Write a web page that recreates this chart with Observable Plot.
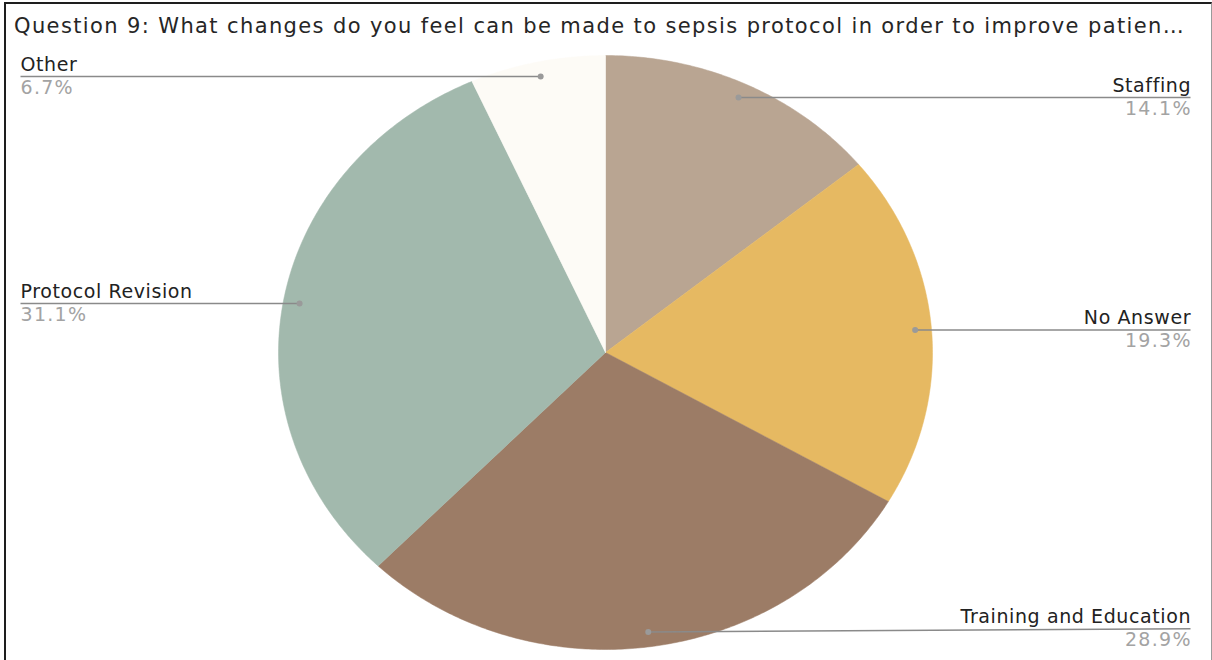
<!DOCTYPE html>
<html>
<head>
<meta charset="utf-8">
<script src="https://cdn.jsdelivr.net/npm/d3@7"></script>
<script src="https://cdn.jsdelivr.net/npm/@observablehq/plot@0.6"></script>
<style>
  html, body { margin: 0; padding: 0; background: #fff; }
  body { width: 1212px; height: 660px; position: relative; overflow: hidden; font-family: "DejaVu Sans", Verdana, sans-serif; }
  #frame { position: absolute; left: 4px; top: 2px; width: 1205px; height: 680px;
           border-left: 2px solid #1e1e1e; border-top: 2px solid #1e1e1e; border-right: 1px solid #9a9a9a; }
  #title { position: absolute; left: 14px; top: 16px; font-size: 21px; letter-spacing: 1.38px; line-height: 1; color: #262626; white-space: nowrap; }
  #chart { position: absolute; left: 0; top: 44px; }
</style>
</head>
<body>
<div id="frame"></div>
<div id="title">Question 9: What changes do you feel can be made to sepsis protocol in order to improve patien…</div>
<div id="chart"></div>
<script>
// Responses to question 9, clockwise from 12 o'clock
const categories = ["Staffing", "No Answer", "Training and Education", "Protocol Revision", "Other"];
const percents = [14.1, 19.3, 28.9, 31.1, 6.7];
const colors = ["#b9a592", "#e6b962", "#9c7c66", "#a2b9ad", "#fdfbf6"];

const total = d3.sum(percents);
let acc = 0;
const slices = categories.map((name, i) => {
  const a0 = (acc / total) * 2 * Math.PI;
  acc += percents[i];
  const a1 = (acc / total) * 2 * Math.PI;
  return {name, value: percents[i], a0, a1, mid: (a0 + a1) / 2};
});

// Wedge outlines in unit-circle coordinates (angle measured clockwise from top)
const wedgePoints = slices.flatMap(s => {
  const n = Math.max(8, Math.ceil((s.a1 - s.a0) / 0.01));
  const pts = [{name: s.name, x: 0, y: 0}];
  for (let k = 0; k <= n; ++k) {
    const a = s.a0 + (s.a1 - s.a0) * k / n;
    pts.push({name: s.name, x: Math.sin(a), y: Math.cos(a)});
  }
  pts.push({name: s.name, x: 0, y: 0});
  return pts;
});

// Callouts: anchor dot inside each wedge, leader to the side margin
const labelX = 1.789;
const callouts = slices.map(s => {
  const x1 = 0.95 * Math.sin(s.mid);
  const y1 = 0.95 * Math.cos(s.mid);
  const right = s.mid < Math.PI;
  return {
    name: s.name,
    pct: s.value.toFixed(1) + "%",
    x1, y1,
    x2: right ? labelX : -labelX,
    y2: Math.max(-0.93, Math.min(0.93, y1)),
    anchor: right ? "end" : "start"
  };
});
const rightLabels = callouts.filter(d => d.anchor === "end");
const leftLabels = callouts.filter(d => d.anchor === "start");

const textStyle = {fontSize: 19, fontFamily: "DejaVu Sans, Verdana, sans-serif"};

const chart = Plot.plot({
  width: 1212,
  height: 616,
  margin: 0,
  x: {domain: [-1, 1], range: [278, 932], axis: null},
  y: {domain: [-1, 1], range: [605, 11], axis: null},
  color: {domain: categories, range: colors},
  style: {background: "transparent", overflow: "visible"},
  marks: [
    Plot.line(wedgePoints, {x: "x", y: "y", z: "name", fill: "name", stroke: "name", strokeWidth: 0.5, curve: "linear"}),
    Plot.link(callouts, {x1: "x1", y1: "y1", x2: "x2", y2: "y2", stroke: "#8a8a8a", strokeWidth: 1.5}),
    Plot.dot(callouts, {x: "x1", y: "y1", r: 3, fill: "#9a9a9a", stroke: "none"}),
    Plot.text(rightLabels, {x: "x2", y: "y2", text: "name", textAnchor: "end", lineAnchor: "bottom", dx: 0.6, dy: -6, fill: "#222", ...textStyle}),
    Plot.text(rightLabels, {x: "x2", y: "y2", text: "pct", textAnchor: "end", lineAnchor: "top", dx: 1.3, dy: 4, fill: "#a3a3a3", ...textStyle}),
    Plot.text(leftLabels, {x: "x2", y: "y2", text: "name", textAnchor: "start", lineAnchor: "bottom", dy: -6, fill: "#222", ...textStyle}),
    Plot.text(leftLabels, {x: "x2", y: "y2", text: "pct", textAnchor: "start", lineAnchor: "top", dy: 4, fill: "#a3a3a3", ...textStyle})
  ]
});

// Widen the tracking of the callout text
d3.select(chart).selectAll("text").each(function() {
  const t = this.textContent;
  this.setAttribute("letter-spacing", t.endsWith("%") ? "1.3" : "0.6");
});

document.getElementById("chart").appendChild(chart);
</script>
</body>
</html>
